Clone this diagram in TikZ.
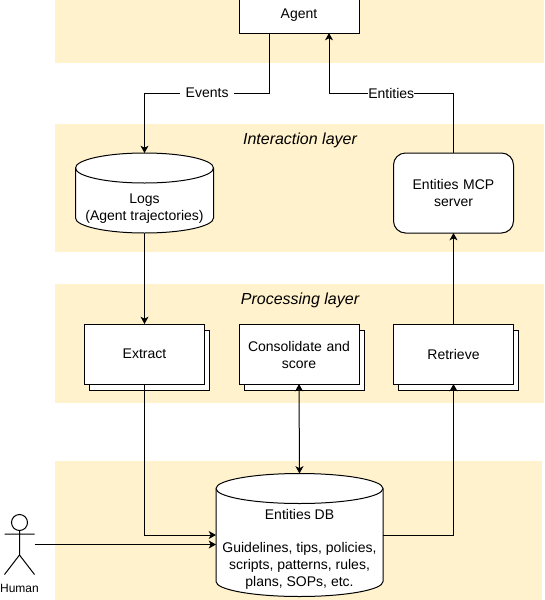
\documentclass[tikz,border=0pt]{standalone}
\usepackage{fontspec}
\setmainfont{Liberation Sans}
\usepackage{xcolor}
\usetikzlibrary{positioning, arrows.meta, calc, shadows}
\definecolor{bandyellow}{HTML}{FFF2CC}

\tikzset{
  band/.style={fill=bandyellow, anchor=north west, inner sep=0pt, outer sep=0pt, minimum width=489*0.75pt},
  layertitle/.style={font=\fontsize{12}{14}\selectfont\itshape, inner sep=0pt},
  stackbox/.style={draw=black, fill=white, line width=0.75pt, outer sep=0pt, minimum width=90pt, minimum height=45pt,
    text width=84pt, align=center, inner sep=0pt,
    copy shadow={shadow xshift=3.75pt, shadow yshift=-4.5pt, draw=black, fill=white, line width=0.75pt}},
  dbbody/.style={inner sep=0pt, outer sep=0pt},
  dbline/.style={draw=black, fill=white, line width=0.75pt},
  dbtext/.style={align=center, inner sep=0pt},
  link/.style={-{Stealth[length=5.5pt, width=6pt, inset=1.5pt]}, line width=0.75pt},
  linklabel/.style={fill=white, inner sep=0pt}
}
% cylinder outline around a named node: node name, half width
\newcommand{\dboutline}[2]{
  \draw[dbline] ($(#1.north west)+(0,15)$) -- ($(#1.south west)+(0,-15)$)
    arc[start angle=180, end angle=360, x radius=#2, y radius=11.25pt]
    -- ($(#1.north east)+(0,15)$)
    arc[start angle=0, end angle=180, x radius=#2, y radius=11.25pt] -- cycle;
  \draw[line width=0.75pt] ($(#1.north west)+(0,15)$)
    arc[start angle=180, end angle=360, x radius=#2, y radius=11.25pt];
}

\begin{document}
\begin{tikzpicture}[x=0.75pt, y=-0.75pt, font=\fontsize{10.5}{12.75}\selectfont]
  \clip (0,0) rectangle (544,600);
  % layers
  \node[band, minimum height=70*0.75pt] (toplayer) at (55,-7) {};
  \node[band, minimum height=128*0.75pt] (interactionlayer) at (55,124) {};
  \node[band, minimum height=119*0.75pt] (processinglayer) at (55,284) {};
  \node[band, minimum height=139*0.75pt, minimum width=487*0.75pt] (storagelayer) at (55,461) {};
  \node[layertitle] (interactiontitle) at (300,140) {Interaction layer};
  \node[layertitle] (processingtitle) at (300,300) {Processing layer};

  \node[draw=black, fill=white, line width=0.75pt, outer sep=0pt, minimum width=90pt, minimum height=27pt] (agent) at (299,15) {Agent};

  \node[dbbody, minimum width=138*0.75pt, minimum height=80*0.75pt] (logs) at (144.5,193) {};
  \dboutline{logs}{51.75pt}
  \node[dbtext] (logstext) at (144.5,209) {Logs\\(Agent trajectories)};
  \node[draw=black, fill=white, line width=0.75pt, outer sep=0pt, rounded corners=9pt, minimum width=90pt, minimum height=60pt,
        text width=84pt, align=center, inner sep=0pt] (server) at (453.5,193) {Entities MCP\\server};

  \node[stackbox] (extract) at (144.5,354) {Extract};
  \node[stackbox, right=25.875pt of extract] (consolidate) {\rule{0pt}{8.8pt}Consolidate and\\score};
  \node[stackbox, right=25.875pt of consolidate] (retrieve) {Retrieve};

  \node[dbbody, minimum width=167*0.75pt, minimum height=123*0.75pt] (entitiesdb) at (299.5,535) {};
  \dboutline{entitiesdb}{62.625pt}
  \node[dbtext] (entitiestext) at (299.5,549) {Entities DB\\[11.85pt]Guidelines, tips, policies,\\scripts, patterns, rules,\\plans, SOPs, etc.};

  % human
  \node[circle, draw=black, fill=white, line width=0.75pt, minimum size=12pt, inner sep=0pt, outer sep=0pt] (human) at (19.5,522.5) {};
  \node[font=\fontsize{9}{10}\selectfont, inner sep=0pt] (humanlabel) at (19.5,588) {Human};
  \coordinate (humanhip) at (19.5,555);
  \coordinate (humanhand) at (34.5,544.5);
  \draw[line width=0.75pt] (human) -- (humanhip) (4.5,534) -- (34.5,534)
    (4.5,574.5) -- (humanhip) -- (34.5,574.5);

  % connectors
  \draw[link] (269.7,33) -- (269.7,93) -- node[linklabel, inner xsep=4pt] (eventslabel) {Events} (144.5,93) -- (logs.north);
  \draw[link] (server.north) -- (453.5,93) -- node[linklabel, pos=0.5] (entitieslabel) {Entities} (329,93) -- (329,33);
  \draw[link] (logs.south) -- (extract.north);
  \draw[link] (extract.south) |- (216,535);
  \draw[link] (humanhand) -- (216,544.5);
  \draw[link, {Stealth[length=5.5pt, width=6pt, inset=1.5pt]}-{Stealth[length=5.5pt, width=6pt, inset=1.5pt]}] (consolidate.south) -- (entitiesdb.north);
  \draw[link] (383,535) -| (retrieve.south);
  \draw[link] (retrieve.north) -- (server.south);
\end{tikzpicture}
\end{document}
